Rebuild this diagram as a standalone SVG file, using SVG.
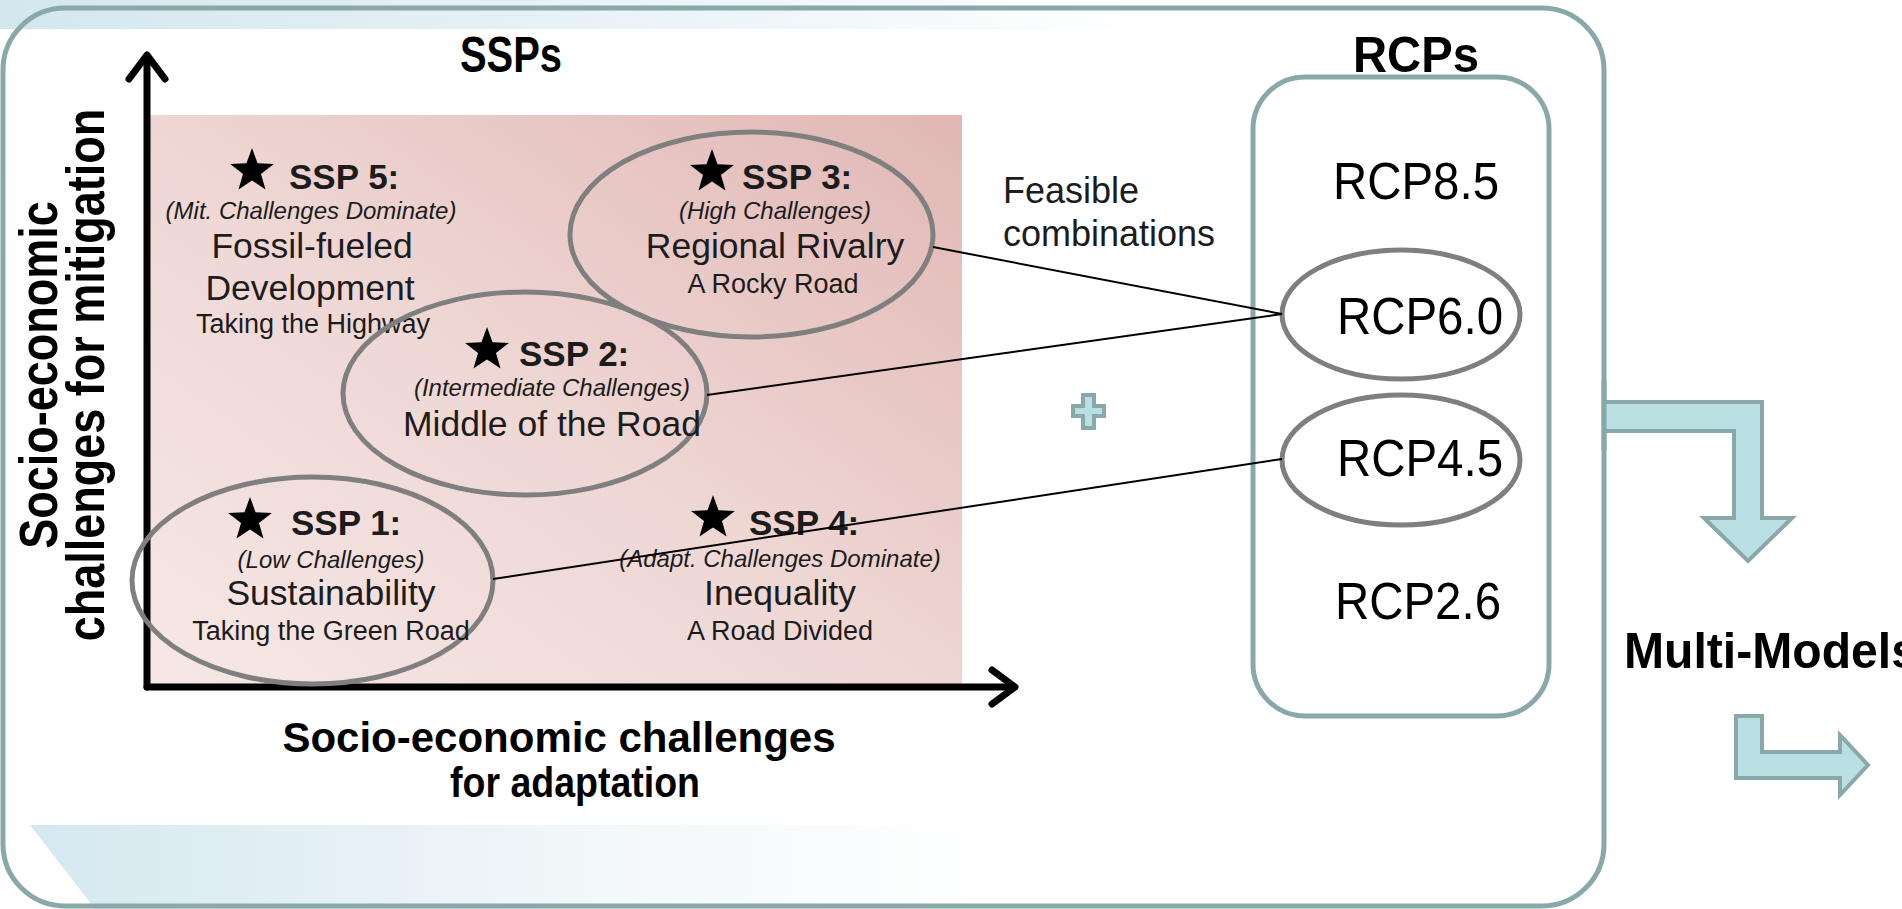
<svg xmlns="http://www.w3.org/2000/svg" xmlns:xlink="http://www.w3.org/1999/xlink" width="1902" height="909" viewBox="0 0 1902 909">
  <style>
    text { font-family: "Liberation Sans", Arial, sans-serif; fill: #1c1c1c; }
    .head { font-weight: bold; fill: #000; }
    .ttl { font-size: 35px; font-weight: bold; }
    .sub { font-size: 24px; font-style: italic; text-anchor: middle; }
    .name { font-size: 35.5px; text-anchor: middle; }
    .road { font-size: 27px; text-anchor: middle; }
    .rcp { font-size: 52px; text-anchor: middle; fill: #000; }
    .frame { fill: none; stroke: #8aa8aa; stroke-width: 5; }
    .oval { fill: none; stroke: #7f7f7f; stroke-width: 5; }
    .axis { fill: none; stroke: #000; stroke-width: 7; stroke-linecap: round; stroke-linejoin: round; }
    .link { stroke: #000; stroke-width: 2; fill: none; }
    .flow { fill: #b9dfe2; stroke: #8aa8aa; stroke-width: 4; stroke-linejoin: miter; }
  </style>
  <defs>
    <linearGradient id="bandTop" x1="0" y1="0" x2="1" y2="0">
      <stop offset="0" stop-color="#d3e7ef"/>
      <stop offset="0.55" stop-color="#eaf3f7"/>
      <stop offset="1" stop-color="#ffffff"/>
    </linearGradient>
    <linearGradient id="bandBottom" x1="0" y1="0" x2="1" y2="0">
      <stop offset="0" stop-color="#d5e8f0"/>
      <stop offset="0.6" stop-color="#f3f8fa"/>
      <stop offset="1" stop-color="#ffffff"/>
    </linearGradient>
    <linearGradient id="pinkField" x1="0" y1="1" x2="1" y2="0">
      <stop offset="0" stop-color="#f6e8e6"/>
      <stop offset="0.5" stop-color="#eed6d3"/>
      <stop offset="1" stop-color="#e1b7b5"/>
    </linearGradient>
    <path id="star" d="M0,-23 L5.54,-7.64 L21.88,-7.11 L8.97,2.92 L13.52,18.61 L0,9.43 L-13.52,18.61 L-8.97,2.92 L-21.88,-7.11 L-5.54,-7.64 Z" fill="#000"/>
  </defs>

  <!-- slide background -->
  <rect x="0" y="0" width="1902" height="909" fill="#ffffff"/>
  <rect x="0" y="0" width="1150" height="29" fill="url(#bandTop)"/>
  <polygon points="30,825 1000,825 1000,909 95,909" fill="url(#bandBottom)"/>

  <!-- outer panel -->
  <rect id="panel" class="frame" x="3" y="8" width="1601" height="898" rx="62" ry="62"/>

  <!-- SSP chart field and axes -->
  <g id="chart">
    <rect x="150" y="115" width="812" height="572" fill="url(#pinkField)"/>
    <polyline class="axis" points="147,687 147,56"/>
    <polyline class="axis" points="129,79 147,55 165,79"/>
    <polyline class="axis" points="147,687 1014,687"/>
    <polyline class="axis" points="992,670 1015,687 992,704"/>
  </g>

  <g id="y-label">
    <text class="head" font-size="45" text-anchor="middle" transform="translate(57,375) rotate(-90) scale(1,1.2)">Socio-economic</text>
    <text class="head" font-size="45" text-anchor="middle" transform="translate(104,375) rotate(-90) scale(1,1.2)">challenges for mitigation</text>
  </g>
  <g id="x-label">
    <text class="head" font-size="42" text-anchor="middle" x="559" y="752">Socio-economic challenges</text>
    <text class="head" font-size="42" text-anchor="middle" x="575" y="797" textLength="250" lengthAdjust="spacingAndGlyphs">for adaptation</text>
  </g>

  <text id="ssps-title" class="head" font-size="50" text-anchor="middle" x="511" y="72" textLength="102" lengthAdjust="spacingAndGlyphs">SSPs</text>
  <text id="rcps-title" class="head" font-size="50" text-anchor="middle" x="1416" y="72" textLength="126" lengthAdjust="spacingAndGlyphs">RCPs</text>

  <!-- SSP scenarios -->
  <g id="ssp5">
    <use href="#star" x="252" y="171"/>
    <text class="ttl" x="289" y="189">SSP 5:</text>
    <text class="sub" x="311" y="219">(Mit. Challenges Dominate)</text>
    <text class="name" x="312" y="258">Fossil-fueled</text>
    <text class="name" x="310" y="300">Development</text>
    <text class="road" x="313" y="333">Taking the Highway</text>
  </g>
  <g id="ssp3">
    <ellipse class="oval" cx="751.5" cy="234.5" rx="181.5" ry="102.5"/>
    <use href="#star" x="712" y="172"/>
    <text class="ttl" x="742" y="189">SSP 3:</text>
    <text class="sub" x="775" y="219">(High Challenges)</text>
    <text class="name" x="775" y="258">Regional Rivalry</text>
    <text class="road" x="773" y="293">A Rocky Road</text>
  </g>
  <g id="ssp2">
    <ellipse class="oval" cx="525" cy="393.5" rx="182" ry="101.5"/>
    <use href="#star" x="487" y="350"/>
    <text class="ttl" x="519" y="366">SSP 2:</text>
    <text class="sub" x="552" y="396">(Intermediate Challenges)</text>
    <text class="name" x="552" y="436">Middle of the Road</text>
  </g>
  <g id="ssp1">
    <ellipse class="oval" cx="312.5" cy="580.5" rx="180.5" ry="103.5"/>
    <use href="#star" x="250" y="520"/>
    <text class="ttl" x="291" y="535">SSP 1:</text>
    <text class="sub" x="331" y="568">(Low Challenges)</text>
    <text class="name" x="331" y="605">Sustainability</text>
    <text class="road" x="331" y="640">Taking the Green Road</text>
  </g>
  <g id="ssp4">
    <use href="#star" x="713" y="518"/>
    <text class="ttl" x="749" y="535">SSP 4:</text>
    <text class="sub" x="780" y="567">(Adapt. Challenges Dominate)</text>
    <text class="name" x="780" y="605">Inequality</text>
    <text class="road" x="780" y="640">A Road Divided</text>
  </g>

  <!-- plus sign between the two sets -->
  <g id="plus">
    <polygon class="flow" stroke-width="3" points="1083,395 1094,395 1094,406 1104,406 1104,416 1094,416 1094,428 1083,428 1083,416 1073,416 1073,406 1083,406"/>
  </g>

  <text id="feasible" font-size="36" x="1003" y="203">Feasible</text>
  <text id="feasible-2" font-size="36" x="1003" y="246">combinations</text>

  <!-- RCP column -->
  <g id="rcps">
    <rect class="frame" x="1253" y="77" width="296" height="639" rx="52" ry="52"/>
    <text class="rcp" x="1416" y="199" textLength="166" lengthAdjust="spacingAndGlyphs">RCP8.5</text>
    <g id="rcp60">
      <ellipse class="oval" cx="1401" cy="314.5" rx="119" ry="64.5"/>
      <text class="rcp" x="1420" y="334" textLength="166" lengthAdjust="spacingAndGlyphs">RCP6.0</text>
    </g>
    <g id="rcp45">
      <ellipse class="oval" cx="1401" cy="460" rx="119" ry="65"/>
      <text class="rcp" x="1420" y="476" textLength="166" lengthAdjust="spacingAndGlyphs">RCP4.5</text>
    </g>
    <text class="rcp" x="1418" y="619" textLength="166" lengthAdjust="spacingAndGlyphs">RCP2.6</text>
  </g>

  <!-- combination links -->
  <g id="connectors">
    <line class="link" x1="933" y1="247" x2="1282" y2="314"/>
    <line class="link" x1="707" y1="395" x2="1282" y2="314"/>
    <line class="link" x1="493" y1="579" x2="1282" y2="459"/>
  </g>

  <!-- flow to multi-model stage -->
  <g id="flow-arrows">
    <polygon class="flow" points="1604,402 1762,402 1762,518 1792,518 1748,561 1704,518 1734,518 1734,431 1604,431"/>
    <polygon class="flow" points="1736,716 1762,716 1762,752 1840,752 1840,735 1868,765 1840,795 1840,778 1736,778"/>
  </g>
  <line x1="1604" y1="380" x2="1604" y2="450" stroke="#8aa8aa" stroke-width="5"/>
  <text id="multi-models" class="head" font-size="50" x="1624" y="668" textLength="294" lengthAdjust="spacingAndGlyphs">Multi-Models</text>
</svg>
